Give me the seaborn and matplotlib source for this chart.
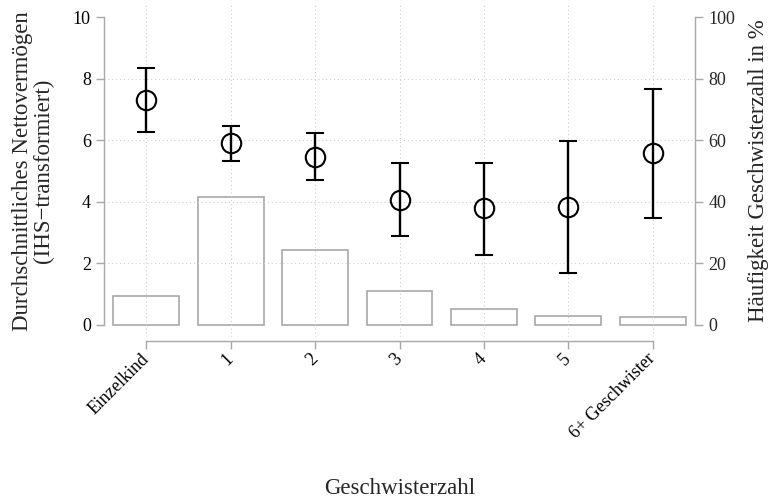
import numpy as np
import pandas as pd
import matplotlib
matplotlib.use("Agg")
import matplotlib.pyplot as plt
import seaborn as sns

# --- data ---
categories = ["Einzelkind", "1", "2", "3", "4", "5", "6+ Geschwister"]
mittelwert = [7.31, 5.92, 5.46, 4.06, 3.78, 3.83, 5.57]
ki_unten = [6.27, 5.33, 4.70, 2.88, 2.27, 1.69, 3.46]
ki_oben = [8.33, 6.47, 6.22, 5.24, 5.27, 5.96, 7.66]
haeufigkeit = [9.3, 41.6, 24.4, 11.1, 5.1, 2.9, 2.6]

left_ticks = [0, 2, 4, 6, 8, 10]
right_ticks = [0, 20, 40, 60, 80, 100]

GRAY = "#A8A8A8"
GRID = "#CFCFCF"

sns.set_style("white")
plt.rcParams["font.family"] = ["Liberation Serif", "DejaVu Serif"]

fig = plt.figure(figsize=(7.74, 5.0), dpi=100)
ax = fig.add_axes([104 / 774, 1 - 337 / 500, 591 / 774, 332.3 / 500])
ax2 = ax.twinx()

# --- bars (right axis, percent) ---
df = pd.DataFrame({"Geschwisterzahl": categories, "Anteil": haeufigkeit})
sns.barplot(data=df, x="Geschwisterzahl", y="Anteil", ax=ax2, color="white",
            edgecolor=GRAY, linewidth=1.2, width=0.78, saturation=1)
ax2.set_ylim(-4, 104)
ax2.set_yticks(right_ticks)
ax2.set_ylabel("Häufigkeit Geschwisterzahl in %", fontsize=16.5)
ax2.yaxis.set_label_coords(1.09, 0.5)
ax2.set_xlabel("")

# --- means with intervals (left axis) ---
x = np.arange(len(categories))
m = np.array(mittelwert)
err = [m - np.array(ki_unten), np.array(ki_oben) - m]
ax.errorbar(x, m, yerr=err, fmt="o", color="black", mfc="none", mec="black",
            ms=14, mew=1.5, elinewidth=1.7, capsize=6.5, capthick=1.7, zorder=5)

ax.set_zorder(ax2.get_zorder() + 1)
ax.patch.set_visible(False)

ax.set_xlim(-0.5, 6.5)
ax.set_ylim(-0.4, 10.4)
ax.set_yticks(left_ticks)
ax.set_xticks(x)
ax.set_xticklabels(categories)

ax.grid(True, linestyle=(0, (1, 2.5)), color=GRID, linewidth=0.8)
ygl = ax.get_ygridlines()
ygl[0].set_visible(False)
ygl[-1].set_visible(False)

# spines
for s in ["top", "right"]:
    ax.spines[s].set_visible(False)
for s in ["top", "left", "bottom"]:
    ax2.spines[s].set_visible(False)
ax.spines["left"].set_bounds(0, 10)
ax.spines["bottom"].set_bounds(0, 6)
ax.spines["bottom"].set_position(("outward", 3))
ax2.spines["right"].set_bounds(0, 100)
for sp in [ax.spines["left"], ax.spines["bottom"], ax2.spines["right"]]:
    sp.set_color(GRAY)
    sp.set_linewidth(1.0)

ax.tick_params(axis="both", which="major", direction="out", length=6,
               width=1.0, color=GRAY, labelsize=13, pad=3.5,
               left=True, bottom=True, labelcolor="black")
ax2.tick_params(axis="y", direction="out", length=6, width=1.0, color=GRAY,
                labelsize=13, pad=3.5, right=True)
ax2.tick_params(axis="x", bottom=False, labelbottom=False)

# rotated category labels
ax.tick_params(axis="x", labelrotation=45, pad=5)
for lab in ax.get_xticklabels():
    lab.set_horizontalalignment("right")
    lab.set_verticalalignment("center")
    lab.set_rotation_mode("anchor")

ax.set_ylabel("Durchschnittliches Nettovermögen\n(IHS\u2212transformiert)",
              fontsize=16.5, linespacing=1.0)
ax.yaxis.set_label_coords(-0.085, 0.5)
ax.set_xlabel("Geschwisterzahl", fontsize=16.5)
ax.xaxis.set_label_coords(0.5, -0.424)

fig.savefig("out.png", dpi=100)
